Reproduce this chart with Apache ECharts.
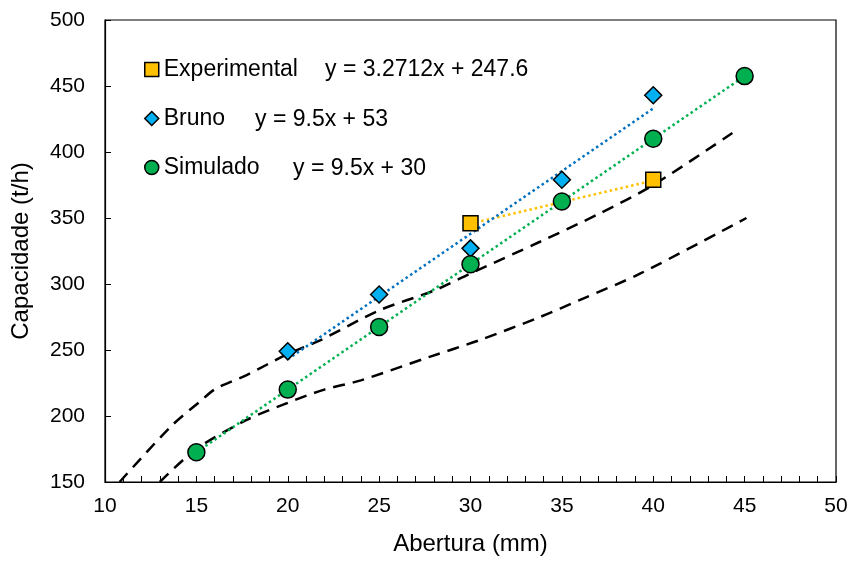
<!DOCTYPE html>
<html><head><meta charset="utf-8">
<script src="https://cdn.jsdelivr.net/npm/echarts@6/dist/echarts.min.js"></script>
<style>html,body{margin:0;padding:0;background:#fff}#c{width:853px;height:562px}</style>
</head><body><div id="c"></div>
<script>
// Data
var experimental = [[30, 346], [40, 379]];
var bruno = [[20, 249], [25, 292], [30, 327], [35, 379], [40, 443]];
var simulado = [[15, 172.5], [20, 220], [25, 267.5], [30, 315], [35, 362.5], [40, 410], [45, 457.5]];
// Trendline endpoints (as drawn)
var trendExperimental = [[30, 345.7], [40, 378.4]];
var trendBruno = [[20, 243], [40, 433]];
var trendSimulado = [[15, 172.5], [45, 457.5]];
// Dashed envelope curves
var upperCurve = [[10.8, 150], [13.6, 192], [15.2, 211], [16.1, 221], [17.75, 231], [20, 247], [21.8, 257.5], [25, 280], [28, 295], [30, 308], [33.8, 332], [37, 353], [40, 375], [44.6, 417]];
var lowerCurve = [[13, 150], [15, 175], [17.75, 197], [20, 210], [22, 220], [24, 227], [27.8, 245], [30.5, 257.5], [33.8, 275], [36, 288], [39.3, 308], [45.1, 350]];
var equations = ['y = 3.2712x + 247.6', 'y = 9.5x + 53', 'y = 9.5x + 30'];
var seriesNames = ['Experimental', 'Bruno', 'Simulado'];

var chart = echarts.init(document.getElementById('c'), null, {renderer: 'canvas'});
var font = 'Liberation Sans, Arial, sans-serif';
var dash = {color: '#000', width: 2.5, type: [12, 8]};
function dotted(c) { return {color: c, width: 2.5, type: [2.5, 3]}; }
var option = {
  animation: false,
  backgroundColor: '#fff',
  textStyle: {fontFamily: font},
  grid: {left: 105, right: 17, top: 20, bottom: 80, show: true, borderColor: '#000', borderWidth: 1.2, backgroundColor: 'transparent'},
  legend: {
    data: [
      {name: seriesNames[0], icon: 'rect'},
      {name: seriesNames[1], icon: 'diamond'},
      {name: seriesNames[2], icon: 'circle'}
    ],
    orient: 'vertical', left: 139, top: 53, itemWidth: 14, itemHeight: 14, itemGap: 26,
    textStyle: {fontSize: 23, color: '#000', fontFamily: font},
    itemStyle: {borderColor: '#000', borderWidth: 1.5}
  },
  graphic: [
    {type: 'text', left: 325, top: 58, style: {text: equations[0], fontSize: 23, fill: '#000', fontFamily: font}},
    {type: 'text', left: 255, top: 108, style: {text: equations[1], fontSize: 23, fill: '#000', fontFamily: font}},
    {type: 'text', left: 293, top: 157, style: {text: equations[2], fontSize: 23, fill: '#000', fontFamily: font}}
  ],
  xAxis: {
    type: 'value', min: 10, max: 50, interval: 5,
    name: 'Abertura (mm)', nameLocation: 'middle', nameGap: 50,
    nameTextStyle: {fontSize: 24, color: '#000', fontFamily: font},
    axisLine: {lineStyle: {color: '#000', width: 1.2}},
    axisTick: {inside: true, length: 6, lineStyle: {color: '#000'}},
    minorTick: {show: true, splitNumber: 5, length: 6, lineStyle: {color: '#000'}},
    axisLabel: {fontSize: 21, color: '#000', margin: 14, fontFamily: font},
    splitLine: {show: false}
  },
  yAxis: {
    type: 'value', min: 150, max: 500, interval: 50,
    name: 'Capacidade (t/h)', nameLocation: 'middle', nameGap: 72,
    nameTextStyle: {fontSize: 24, color: '#000', fontFamily: font},
    axisLine: {show: true, lineStyle: {color: '#000', width: 1.2}},
    axisTick: {show: true, inside: true, length: 6, lineStyle: {color: '#000'}},
    axisLabel: {fontSize: 21, color: '#000', margin: 20, fontFamily: font},
    splitLine: {show: false}
  },
  series: [
    {type: 'line', data: upperCurve, smooth: 0.3, symbol: 'none', lineStyle: dash, z: 1, silent: true},
    {type: 'line', data: lowerCurve, smooth: 0.3, symbol: 'none', lineStyle: dash, z: 1, silent: true},
    {type: 'line', data: trendExperimental, symbol: 'none', lineStyle: dotted('#FFC000'), z: 2},
    {type: 'line', data: trendBruno, symbol: 'none', lineStyle: dotted('#0070C0'), z: 2},
    {type: 'line', data: trendSimulado, symbol: 'none', lineStyle: dotted('#00B050'), z: 2},
    {name: seriesNames[0], type: 'scatter', data: experimental, symbol: 'rect', symbolSize: 15, z: 5,
      itemStyle: {color: '#FFC000', borderColor: '#000', borderWidth: 1.5, opacity: 1}},
    {name: seriesNames[1], type: 'scatter', data: bruno, symbol: 'diamond', symbolSize: 17, z: 5,
      itemStyle: {color: '#00B0F0', borderColor: '#000', borderWidth: 1.5, opacity: 1}},
    {name: seriesNames[2], type: 'scatter', data: simulado, symbol: 'circle', symbolSize: 17, z: 5,
      itemStyle: {color: '#00B050', borderColor: '#000', borderWidth: 1.5, opacity: 1}}
  ]
};
chart.setOption(option);
</script></body></html>
